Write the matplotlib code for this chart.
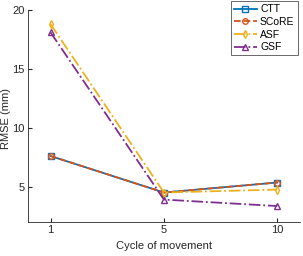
import numpy as np
import matplotlib.pyplot as plt

plt.rcParams['font.family'] = ['Liberation Sans', 'DejaVu Sans']

cycles = ['1', '5', '10']
ctt = [7.6, 4.5, 5.35]
score = [7.6, 4.5, 5.35]
asf = [18.8, 4.5, 4.75]
gsf = [18.1, 3.9, 3.35]

x = np.arange(1, len(cycles) + 1)

fig = plt.figure(figsize=(3.03, 2.56), dpi=100)
ax = fig.add_axes([0.092, 0.133, 0.898, 0.828])

ax.plot(x, ctt, '-s', color='#0072BD', lw=1.3, ms=4, mfc='none', label='CTT')
ax.plot(x, score, '--o', color='#D95319', lw=1.3, ms=4, mfc='none', label='SCoRE')
ax.plot(x, asf, '-.d', color='#EDB120', lw=1.3, ms=4, mfc='none', label='ASF')
ax.plot(x, gsf, '-.^', color='#7E2F8E', lw=1.3, ms=4, mfc='none', label='GSF')

ax.set_xlim(0.8, 3.2)
ax.set_ylim(2, 20)
ax.set_xticks(x)
ax.set_xticklabels(cycles)
ax.set_yticks([5, 10, 15, 20])
ax.tick_params(labelsize=8, direction='in', length=3, pad=2.5,
               color='#262626', labelcolor='#262626')
ax.spines['top'].set_visible(False)
ax.spines['right'].set_visible(False)
for s in ['left', 'bottom']:
    ax.spines[s].set_color('#262626')
    ax.spines[s].set_linewidth(0.6)

ax.set_xlabel('Cycle of movement', fontsize=8, color='#262626')
ax.set_ylabel('RMSE (mm)', fontsize=8, color='#262626')
ax.yaxis.set_label_coords(-0.062, 0.49)

leg = ax.legend(loc='upper right', bbox_to_anchor=(0.982, 0.995), bbox_transform=fig.transFigure,
                fontsize=7.5, frameon=True, fancybox=False, edgecolor='#262626',
                handlelength=2.2, handletextpad=0.3, borderpad=0.3, labelspacing=0.25,
                borderaxespad=0)
leg.get_frame().set_linewidth(0.6)

fig.savefig('out.png', dpi=100)
